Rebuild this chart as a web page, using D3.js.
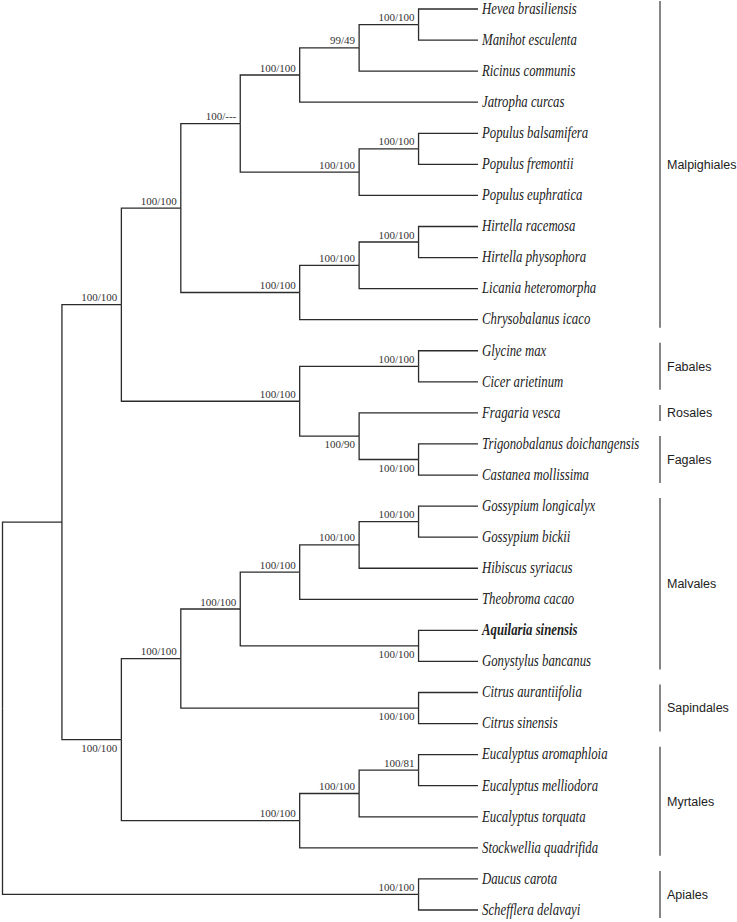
<!DOCTYPE html>
<html>
<head>
<meta charset="utf-8">
<script src="https://cdn.jsdelivr.net/npm/d3@7"></script>
<style>
  body { margin: 0; background: #fff; }
  svg { display: block; }
</style>
</head>
<body>
<svg id="tree" width="737" height="922"></svg>
<script>
// leaves, top to bottom, and the clade each one hangs from
var taxa = [
  "Hevea brasiliensis", "Manihot esculenta", "Ricinus communis", "Jatropha curcas",
  "Populus balsamifera", "Populus fremontii", "Populus euphratica",
  "Hirtella racemosa", "Hirtella physophora", "Licania heteromorpha", "Chrysobalanus icaco",
  "Glycine max", "Cicer arietinum", "Fragaria vesca",
  "Trigonobalanus doichangensis", "Castanea mollissima",
  "Gossypium longicalyx", "Gossypium bickii", "Hibiscus syriacus", "Theobroma cacao",
  "Aquilaria sinensis", "Gonystylus bancanus",
  "Citrus aurantiifolia", "Citrus sinensis",
  "Eucalyptus aromaphloia", "Eucalyptus melliodora", "Eucalyptus torquata", "Stockwellia quadrifida",
  "Daucus carota", "Schefflera delavayi"
];
var taxonParent = [
  "n7", "n7", "n6", "n5",
  "n9", "n9", "n8",
  "n12", "n12", "n11", "n10",
  "n14", "n14", "n15",
  "n16", "n16",
  "n22", "n22", "n21", "n20",
  "n23", "n23",
  "n24", "n24",
  "n27", "n27", "n26", "n25",
  "n28", "n28"
];
var highlightTaxon = "Aquilaria sinensis";

// internal clades with bootstrap / posterior support
var cladeIds     = ["n0", "n1", "n2", "n3", "n4", "n5", "n6", "n7", "n8", "n9", "n10", "n11", "n12", "n13", "n14",
                    "n15", "n16", "n17", "n18", "n19", "n20", "n21", "n22", "n23", "n24", "n25", "n26", "n27", "n28"];
var cladeParents = ["",   "n0", "n1", "n2", "n3", "n4", "n5", "n6", "n4", "n8", "n3",  "n10", "n11", "n2",  "n13",
                    "n13", "n15", "n1", "n17", "n18", "n19", "n20", "n21", "n19", "n18", "n17", "n25", "n26", "n0"];
var cladeSupport = ["", "", "100/100", "100/100", "100/---", "100/100", "99/49", "100/100", "100/100", "100/100",
                    "100/100", "100/100", "100/100", "100/100", "100/100", "100/90", "100/100", "100/100", "100/100",
                    "100/100", "100/100", "100/100", "100/100", "100/100", "100/100", "100/100", "100/100", "100/81", "100/100"];
var supportBelow = ["n15", "n16", "n17", "n23", "n24"];

// orders bracketed on the right
var orders     = ["Malpighiales", "Fabales", "Rosales", "Fagales", "Malvales", "Sapindales", "Myrtales", "Apiales"];
var orderFirst = ["Hevea brasiliensis", "Glycine max", "Fragaria vesca", "Trigonobalanus doichangensis",
                  "Gossypium longicalyx", "Citrus aurantiifolia", "Eucalyptus aromaphloia", "Daucus carota"];
var orderLast  = ["Chrysobalanus icaco", "Cicer arietinum", "Fragaria vesca", "Castanea mollissima",
                  "Gonystylus bancanus", "Citrus sinensis", "Stockwellia quadrifida", "Schefflera delavayi"];

var rows = cladeIds.map(function(id, i) {
  return {id: id, parentId: cladeParents[i] || null, support: cladeSupport[i]};
}).concat(taxa.map(function(t, i) {
  return {id: t, parentId: taxonParent[i], support: ""};
}));

var root = d3.stratify()(rows);
// keep leaf order as listed in taxa
root.eachAfter(function(n) {
  n.order = n.children ? d3.min(n.children, function(c) { return c.order; }) : taxa.indexOf(n.id);
});
root.sort(function(a, b) { return a.order - b.order; });

d3.cluster().size([1, 1]).separation(function() { return 1; })(root);

var x = d3.scaleLinear().domain([0, 1]).range([2.5, 478]);
var y = d3.scaleLinear()
  .domain(d3.extent(root.leaves(), function(n) { return n.x; }))
  .range([9, 910]);

var svg = d3.select("#tree");
var ink = "#2b2b2b";

svg.append("g")
  .selectAll("path")
  .data(root.links())
  .join("path")
    .attr("fill", "none")
    .attr("stroke", ink)
    .attr("stroke-width", 1.3)
    .attr("d", function(l) {
      return "M" + x(l.source.y) + "," + y(l.source.x) +
             "V" + y(l.target.x) + "H" + x(l.target.y);
    });

// support values
svg.append("g")
  .selectAll("text")
  .data(root.descendants().filter(function(n) { return n.children && n.data.support; }))
  .join("text")
    .attr("x", function(n) { return x(n.y) - 4; })
    .attr("y", function(n) {
      return supportBelow.indexOf(n.id) >= 0 ? y(n.x) + 12 : y(n.x) - 3.5;
    })
    .attr("text-anchor", "end")
    .attr("font-family", "'Liberation Serif', 'Times New Roman', serif")
    .attr("font-size", 11)
    .attr("fill", "#333")
    .text(function(n) { return n.data.support; });

// taxon names
svg.append("g")
  .selectAll("text")
  .data(root.leaves())
  .join("text")
    .attr("transform", function(n) { return "translate(" + (x(n.y) + 4) + "," + (y(n.x) + 4.8) + ") scale(0.8,1)"; })
    .attr("font-family", "'Liberation Serif', 'Times New Roman', serif")
    .attr("font-style", "italic")
    .attr("font-weight", function(n) { return n.id === highlightTaxon ? "bold" : "normal"; })
    .attr("font-size", 16)
    .attr("fill", "#222")
    .text(function(n) { return n.id; });

// order brackets
var leafY = {};
root.leaves().forEach(function(n) { leafY[n.id] = y(n.x); });
var og = svg.append("g").selectAll("g").data(orders).join("g");
og.append("line")
  .attr("x1", 660).attr("x2", 660)
  .attr("y1", function(d, i) { return leafY[orderFirst[i]] - 8; })
  .attr("y2", function(d, i) { return leafY[orderLast[i]] + 8; })
  .attr("stroke", "#444")
  .attr("stroke-width", 1.3);
og.append("text")
  .attr("x", 667)
  .attr("y", function(d, i) { return (leafY[orderFirst[i]] + leafY[orderLast[i]]) / 2; })
  .attr("dy", "0.35em")
  .attr("font-family", "'Liberation Sans', Arial, sans-serif")
  .attr("font-size", 12.5)
  .attr("fill", "#222")
  .text(function(d) { return d; });
</script>
</body>
</html>
